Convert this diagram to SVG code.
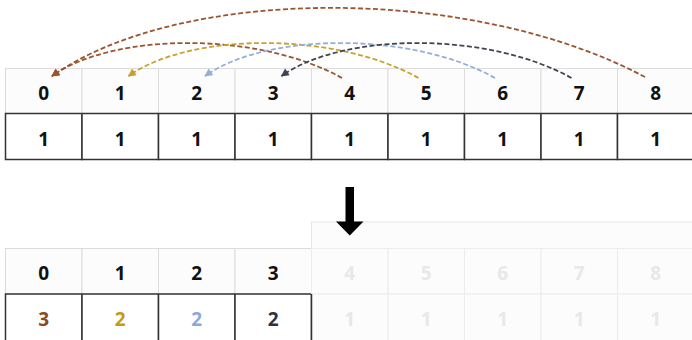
<svg xmlns="http://www.w3.org/2000/svg" width="692" height="340" viewBox="0 0 692 340">
<style>
.hd{fill:#fcfcfc;stroke:#dcdcdc;stroke-width:1}
.vl{fill:#ffffff;stroke:#333333;stroke-width:1.5}
.fh{fill:#fcfcfc;stroke:#ececec;stroke-width:1}
.t{font-family:"Open Sans","Noto Sans","Liberation Sans",sans-serif;font-size:19px;font-weight:700;text-anchor:middle;fill:#111111}
.ft{fill:#e8e8e8}
.arc{fill:none;stroke-width:1.8;stroke-dasharray:5 2.5}
</style>
<defs>
<marker id="mBrown" viewBox="0 0 10 10" refX="9" refY="5" markerWidth="9" markerHeight="8" markerUnits="userSpaceOnUse" orient="auto"><path d="M0,0 L10,5 L0,10 z" fill="#9a5530"/></marker>
<marker id="mGold" viewBox="0 0 10 10" refX="9" refY="5" markerWidth="9" markerHeight="8" markerUnits="userSpaceOnUse" orient="auto"><path d="M0,0 L10,5 L0,10 z" fill="#c9a02a"/></marker>
<marker id="mBlue" viewBox="0 0 10 10" refX="9" refY="5" markerWidth="9" markerHeight="8" markerUnits="userSpaceOnUse" orient="auto"><path d="M0,0 L10,5 L0,10 z" fill="#93aedb"/></marker>
<marker id="mDark" viewBox="0 0 10 10" refX="9" refY="5" markerWidth="9" markerHeight="8" markerUnits="userSpaceOnUse" orient="auto"><path d="M0,0 L10,5 L0,10 z" fill="#3f4550"/></marker>
</defs>

<g id="top-array">
<g id="top-cell-0"><rect class="hd" x="5.5" y="68.5" width="76.5" height="45"/><text class="t" x="43.75" y="99.5">0</text><rect class="vl" x="5.5" y="113.5" width="76.5" height="46"/><text class="t" x="43.75" y="145.5">1</text></g>
<g id="top-cell-1"><rect class="hd" x="82" y="68.5" width="76.5" height="45"/><text class="t" x="120.25" y="99.5">1</text><rect class="vl" x="82" y="113.5" width="76.5" height="46"/><text class="t" x="120.25" y="145.5">1</text></g>
<g id="top-cell-2"><rect class="hd" x="158.5" y="68.5" width="76.5" height="45"/><text class="t" x="196.75" y="99.5">2</text><rect class="vl" x="158.5" y="113.5" width="76.5" height="46"/><text class="t" x="196.75" y="145.5">1</text></g>
<g id="top-cell-3"><rect class="hd" x="235" y="68.5" width="76.5" height="45"/><text class="t" x="273.25" y="99.5">3</text><rect class="vl" x="235" y="113.5" width="76.5" height="46"/><text class="t" x="273.25" y="145.5">1</text></g>
<g id="top-cell-4"><rect class="hd" x="311.5" y="68.5" width="76.5" height="45"/><text class="t" x="349.75" y="99.5">4</text><rect class="vl" x="311.5" y="113.5" width="76.5" height="46"/><text class="t" x="349.75" y="145.5">1</text></g>
<g id="top-cell-5"><rect class="hd" x="388" y="68.5" width="76.5" height="45"/><text class="t" x="426.25" y="99.5">5</text><rect class="vl" x="388" y="113.5" width="76.5" height="46"/><text class="t" x="426.25" y="145.5">1</text></g>
<g id="top-cell-6"><rect class="hd" x="464.5" y="68.5" width="76.5" height="45"/><text class="t" x="502.75" y="99.5">6</text><rect class="vl" x="464.5" y="113.5" width="76.5" height="46"/><text class="t" x="502.75" y="145.5">1</text></g>
<g id="top-cell-7"><rect class="hd" x="541" y="68.5" width="76.5" height="45"/><text class="t" x="579.25" y="99.5">7</text><rect class="vl" x="541" y="113.5" width="76.5" height="46"/><text class="t" x="579.25" y="145.5">1</text></g>
<g id="top-cell-8"><rect class="hd" x="617.5" y="68.5" width="76.5" height="45"/><text class="t" x="655.75" y="99.5">8</text><rect class="vl" x="617.5" y="113.5" width="76.5" height="46"/><text class="t" x="655.75" y="145.5">1</text></g>
</g>

<g id="connectors">
<path class="arc" stroke="#9a5530" marker-end="url(#mBrown)" d="M645,77 C472,-15 182,-15 52,76"/>
<path class="arc" stroke="#9a5530" marker-end="url(#mBrown)" d="M342,78 C259,31.7 115,31.7 52,76"/>
<path class="arc" stroke="#c9a02a" marker-end="url(#mGold)" d="M418.5,78 C335.5,31.7 191.5,31.7 128.5,76"/>
<path class="arc" stroke="#93aedb" marker-end="url(#mBlue)" d="M495,78 C412,31.7 268,31.7 205,76"/>
<path class="arc" stroke="#3f4550" marker-end="url(#mDark)" d="M571.5,78 C488.5,31.7 344.5,31.7 281.5,76"/>
</g>

<g id="bottom-array">
<rect id="faded-region" x="311.5" y="222" width="400" height="130" fill="#fcfcfc" stroke="#e6e6e6" stroke-width="1"/>
<g id="bot-cell-0"><rect class="hd" x="5.5" y="248.5" width="76.5" height="45.5"/><text class="t" x="43.75" y="279.5">0</text><rect class="vl" x="5.5" y="294" width="76.5" height="47"/><text class="t" x="43.75" y="325.5" style="fill:#8b4a22">3</text></g>
<g id="bot-cell-1"><rect class="hd" x="82" y="248.5" width="76.5" height="45.5"/><text class="t" x="120.25" y="279.5">1</text><rect class="vl" x="82" y="294" width="76.5" height="47"/><text class="t" x="120.25" y="325.5" style="fill:#c49a17">2</text></g>
<g id="bot-cell-2"><rect class="hd" x="158.5" y="248.5" width="76.5" height="45.5"/><text class="t" x="196.75" y="279.5">2</text><rect class="vl" x="158.5" y="294" width="76.5" height="47"/><text class="t" x="196.75" y="325.5" style="fill:#8fa8d8">2</text></g>
<g id="bot-cell-3"><rect class="hd" x="235" y="248.5" width="76.5" height="45.5"/><text class="t" x="273.25" y="279.5">3</text><rect class="vl" x="235" y="294" width="76.5" height="47"/><text class="t" x="273.25" y="325.5" style="fill:#2d3340">2</text></g>
<g id="bot-cell-4"><rect class="fh" x="311.5" y="248.5" width="76.5" height="45.5"/><text class="t ft" x="349.75" y="279.5">4</text><rect class="fh" x="311.5" y="294" width="76.5" height="47"/><text class="t ft" x="349.75" y="325.5">1</text></g>
<g id="bot-cell-5"><rect class="fh" x="388" y="248.5" width="76.5" height="45.5"/><text class="t ft" x="426.25" y="279.5">5</text><rect class="fh" x="388" y="294" width="76.5" height="47"/><text class="t ft" x="426.25" y="325.5">1</text></g>
<g id="bot-cell-6"><rect class="fh" x="464.5" y="248.5" width="76.5" height="45.5"/><text class="t ft" x="502.75" y="279.5">6</text><rect class="fh" x="464.5" y="294" width="76.5" height="47"/><text class="t ft" x="502.75" y="325.5">1</text></g>
<g id="bot-cell-7"><rect class="fh" x="541" y="248.5" width="76.5" height="45.5"/><text class="t ft" x="579.25" y="279.5">7</text><rect class="fh" x="541" y="294" width="76.5" height="47"/><text class="t ft" x="579.25" y="325.5">1</text></g>
<g id="bot-cell-8"><rect class="fh" x="617.5" y="248.5" width="76.5" height="45.5"/><text class="t ft" x="655.75" y="279.5">8</text><rect class="fh" x="617.5" y="294" width="76.5" height="47"/><text class="t ft" x="655.75" y="325.5">1</text></g>
<line x1="311.5" y1="294" x2="311.5" y2="341" stroke="#333333" stroke-width="1.5"/>
</g>

<g id="down-arrow">
<rect x="345.5" y="187" width="8.5" height="35" fill="#000000"/>
<polygon points="336,221.5 363.5,221.5 349.75,235.5" fill="#000000"/>
</g>
</svg>
